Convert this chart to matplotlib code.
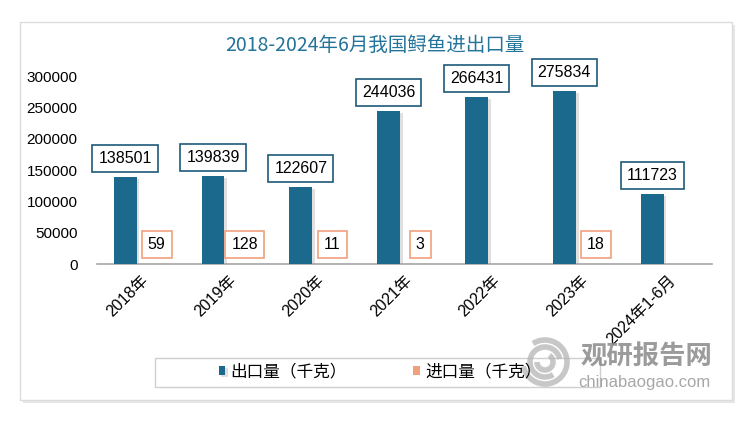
import numpy as np
import matplotlib
matplotlib.use('Agg')
import matplotlib.pyplot as plt
import matplotlib.patheffects as pe
from matplotlib.patches import Rectangle, Arc

plt.rcParams['font.family'] = ['Liberation Sans', 'Noto Sans CJK SC', 'DejaVu Sans']

# ---------------- Data ---------------- #
categories = ['2018年', '2019年', '2020年', '2021年', '2022年', '2023年', '2024年1-6月']
export_vals = [138501, 139839, 122607, 244036, 266431, 275834, 111723]
import_vals = [59, 128, 11, 3, None, 18, None]
title = '2018-2024年6月我国鲟鱼进出口量'
legend_labels = ['出口量（千克）', '进口量（千克）']

BLUE = '#1b6a8e'
ORANGE = '#f0a07c'
TITLE_C = '#23739a'

fig = plt.figure(figsize=(7.5, 4.21), dpi=100)
fig.patch.set_facecolor('white')

# card background with shadow
card = (20 / 750, 1 - 400 / 421, 712 / 750, 378 / 421)
fig.patches.append(Rectangle((card[0] + 0.004, card[1] - 0.006), card[2], card[3],
                             transform=fig.transFigure, facecolor='#e6e6e6',
                             edgecolor='none', zorder=-3))
fig.patches.append(Rectangle(card[:2], card[2], card[3], transform=fig.transFigure,
                             facecolor='white', edgecolor='#dcdcdc', lw=1, zorder=-2))
# legend frame
fig.patches.append(Rectangle((155 / 750, 1 - 387 / 421), 445 / 750, 29 / 421,
                             transform=fig.transFigure, facecolor='white',
                             edgecolor='#cfcfcf', lw=1, zorder=-1))

ax = fig.add_axes([97 / 750, 1 - 264 / 421, 615 / 750, 188 / 421])
ax.set_facecolor('none')

x = np.arange(len(categories))
w = 0.26
off = 0.18
shadow = [pe.SimplePatchShadow(offset=(2, -1.5), shadow_rgbFace='#9a9a9a', alpha=0.3), pe.Normal()]

exp_bars = ax.bar(x - off, export_vals, width=w, color=BLUE, label=legend_labels[0], zorder=3)
imp_h = [v if v is not None else 0 for v in import_vals]
imp_bars = ax.bar(x + off, imp_h, width=w, color=ORANGE, label=legend_labels[1], zorder=3)
for b in exp_bars:
    b.set_path_effects(shadow)

for xi, v in zip(x, export_vals):
    ax.annotate(f'{v}', (xi - off, v), xytext=(0, 8), textcoords='offset points',
                ha='center', va='bottom', fontsize=11.5, color='black', zorder=5,
                bbox=dict(boxstyle='square,pad=0.38', fc='white', ec='#1f5a7a', lw=1.2),
                annotation_clip=False)
for xi, v in zip(x, import_vals):
    if v is None:
        continue
    ax.annotate(f'{v}', (xi + off, v), xytext=(0, 8.5), textcoords='offset points',
                ha='center', va='bottom', fontsize=11.5, color='black', zorder=5,
                bbox=dict(boxstyle='square,pad=0.38', fc='white', ec=ORANGE, lw=1.2),
                annotation_clip=False)

ax.set_xlim(-0.5, len(categories) - 0.5)
ax.set_ylim(0, 300000)
ax.set_yticks([0, 50000, 100000, 150000, 200000, 250000, 300000])
ax.set_yticklabels(['0', '50000', '100000', '150000', '200000', '250000', '300000'])
ax.set_xticks(x)
ax.set_xticklabels(categories, rotation=45, ha='right', va='top', rotation_mode='anchor')
ax.tick_params(axis='y', length=0, pad=14, labelsize=11)
ax.tick_params(axis='x', length=0, pad=6, labelsize=11.5)
for s in ['top', 'right', 'left']:
    ax.spines[s].set_visible(False)
ax.spines['bottom'].set_color('#a6a6a6')
ax.spines['bottom'].set_linewidth(1.2)

fig.text(0.5, 1 - 45 / 421, title, ha='center', va='center', fontsize=14,
         color=TITLE_C, family=['Noto Sans CJK SC', 'DejaVu Sans'])

leg = fig.legend(handles=[exp_bars, imp_bars], labels=legend_labels, loc='center',
                 bbox_to_anchor=(380 / 750, 1 - 372 / 421), ncol=2, frameon=False,
                 handlelength=0.4, handleheight=0.5, handletextpad=0.3,
                 columnspacing=4.0, prop={'family': ['Noto Sans CJK SC'], 'size': 12})

# watermark
wm = '#8a8a8a'
fig.text(646 / 750, 1 - 357 / 421, '观研报告网', ha='center', va='center', fontsize=19,
         fontweight='bold', color=wm, alpha=0.85, family=['Noto Sans CJK SC'])
fig.text(644 / 750, 1 - 382 / 421, 'chinabaogao.com', ha='center', va='center', fontsize=12,
         color=wm, alpha=0.75, family=['Liberation Sans'])
for r, a1, a2 in [(44, 200, 470), (30, 20, 290), (16, 180, 430)]:
    fig.patches.append(Arc((545 / 750, 1 - 362 / 421), r / 750, r / 421, theta1=a1, theta2=a2,
                           transform=fig.transFigure, color='#b0b0b0', lw=4, alpha=0.7))

fig.savefig('out.png', dpi=100, facecolor='white')
